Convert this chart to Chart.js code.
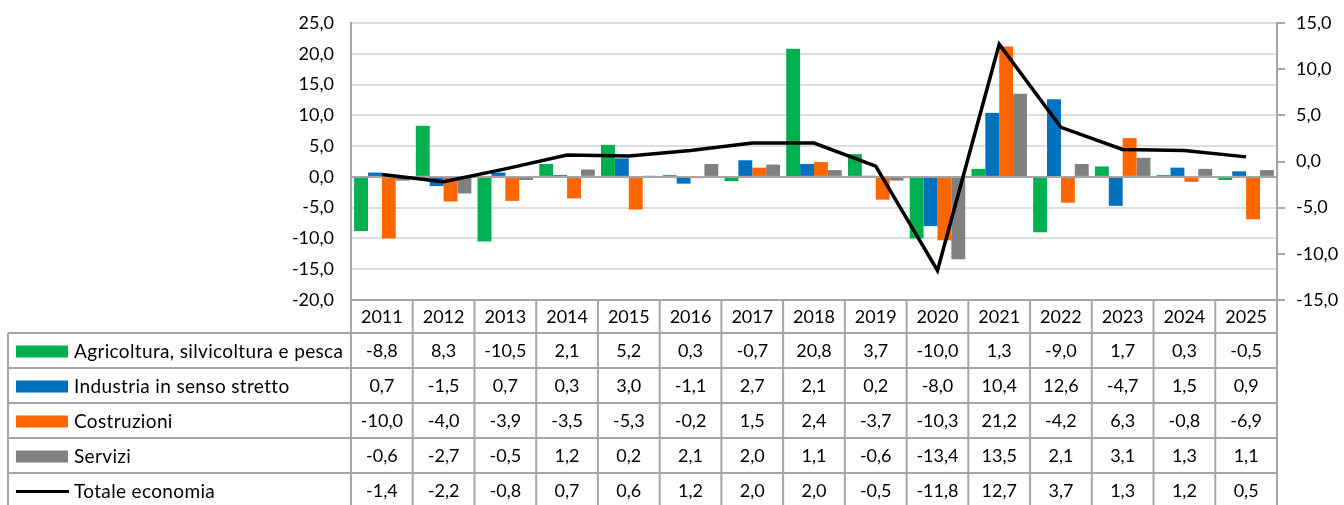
<!DOCTYPE html>
<html>
<head>
<meta charset="utf-8">
<script src="https://cdn.jsdelivr.net/npm/chart.js@4.4.1/dist/chart.umd.min.js"></script>
<style>
  body { margin: 0; background: #fff; }
  #wrap { width: 1344px; height: 505px; position: relative; }
</style>
</head>
<body>
<div id="wrap"><canvas id="chart"></canvas></div>
<script>
// Data
const years = ['2011', '2012', '2013', '2014', '2015', '2016', '2017', '2018', '2019', '2020', '2021', '2022', '2023', '2024', '2025'];
const agricoltura = [-8.8, 8.3, -10.5, 2.1, 5.2, 0.3, -0.7, 20.8, 3.7, -10.0, 1.3, -9.0, 1.7, 0.3, -0.5];
const industria = [0.7, -1.5, 0.7, 0.3, 3.0, -1.1, 2.7, 2.1, 0.2, -8.0, 10.4, 12.6, -4.7, 1.5, 0.9];
const costruzioni = [-10.0, -4.0, -3.9, -3.5, -5.3, -0.2, 1.5, 2.4, -3.7, -10.3, 21.2, -4.2, 6.3, -0.8, -6.9];
const servizi = [-0.6, -2.7, -0.5, 1.2, 0.2, 2.1, 2.0, 1.1, -0.6, -13.4, 13.5, 2.1, 3.1, 1.3, 1.1];
const totale = [-1.4, -2.2, -0.8, 0.7, 0.6, 1.2, 2.0, 2.0, -0.5, -11.8, 12.7, 3.7, 1.3, 1.2, 0.5];

const FONT = 'Lato, "Open Sans", sans-serif';
const GRID = '#a6a6a6';

function fmt(v) {
    return v.toFixed(1).replace('.', ',');
}

// Draws the data table below the plot, aligned with the category scale
const tablePlugin = {
    id: 'dataTable',
    afterDraw(chart) {
        const ctx = chart.ctx;
        const area = chart.chartArea;
        const x = chart.scales.x;
        const n = years.length;
        const w = (area.right - area.left) / n;
        const top = area.bottom;
        const headH = 33;
        const rowH = 35;
        const legLeft = 8;
        const rows = chart.data.datasets;

        ctx.save();
        ctx.strokeStyle = GRID;
        ctx.lineWidth = 2;

        // horizontal lines
        ctx.beginPath();
        ctx.moveTo(area.left, top);
        ctx.lineTo(area.right, top);
        for (let r = 0; r <= rows.length; r++) {
            const y = top + headH + r * rowH;
            ctx.moveTo(legLeft, y);
            ctx.lineTo(area.right, y);
        }
        // vertical lines
        for (let i = 0; i <= n; i++) {
            const xx = area.left + i * w;
            ctx.moveTo(xx, top);
            ctx.lineTo(xx, chart.height);
        }
        ctx.moveTo(legLeft, top + headH);
        ctx.lineTo(legLeft, chart.height);
        ctx.stroke();

        ctx.fillStyle = '#000';
        ctx.font = '18px ' + FONT;
        ctx.textBaseline = 'middle';
        ctx.textAlign = 'center';
        years.forEach((yr, i) => {
            ctx.fillText(yr, x.getPixelForValue(i), top + headH / 2 + 1);
        });

        rows.forEach((ds, r) => {
            const cy = top + headH + r * rowH + rowH / 2 + 1;
            // legend key
            if (ds.type === 'line') {
                ctx.strokeStyle = ds.borderColor;
                ctx.lineWidth = 3;
                ctx.beginPath();
                ctx.moveTo(16, cy);
                ctx.lineTo(69, cy);
                ctx.stroke();
            } else {
                ctx.fillStyle = ds.backgroundColor;
                ctx.fillRect(16, cy - 6, 52, 12);
            }
            ctx.fillStyle = '#000';
            ctx.textAlign = 'left';
            ctx.font = '19px ' + FONT;
            ctx.letterSpacing = '0.35px';
            ctx.fillText(ds.label, 74, cy);
            ctx.letterSpacing = '0px';
            ctx.font = '18px ' + FONT;
            ctx.textAlign = 'center';
            ds.data.forEach((v, i) => {
                ctx.fillText(fmt(v), x.getPixelForValue(i), cy);
            });
        });
        ctx.restore();
    }
};

const ctx = document.getElementById('chart').getContext('2d');
new Chart(ctx, {
    data: {
        labels: years,
        datasets: [
            { type: 'bar', label: 'Agricoltura, silvicoltura e pesca', data: agricoltura, backgroundColor: '#00b050', yAxisID: 'y', order: 2 },
            { type: 'bar', label: 'Industria in senso stretto', data: industria, backgroundColor: '#0070c0', yAxisID: 'y', order: 2 },
            { type: 'bar', label: 'Costruzioni', data: costruzioni, backgroundColor: '#ff6600', yAxisID: 'y', order: 2 },
            { type: 'bar', label: 'Servizi', data: servizi, backgroundColor: '#808080', yAxisID: 'y', order: 2 },
            { type: 'line', label: 'Totale economia', data: totale, borderColor: '#000', backgroundColor: '#000', borderWidth: 3.5, pointRadius: 0, tension: 0, yAxisID: 'y2', order: 1 }
        ]
    },
    options: {
        responsive: true,
        maintainAspectRatio: false,
        animation: false,
        layout: { padding: { top: 23, bottom: 205, left: 0, right: 0 } },
        datasets: { bar: { categoryPercentage: 0.9, barPercentage: 1.0 } },
        plugins: { legend: { display: false }, tooltip: { enabled: false } },
        scales: {
            x: { display: false },
            y: {
                position: 'left',
                min: -20, max: 25,
                ticks: { stepSize: 5, padding: 17, color: '#000', font: { family: FONT, size: 18 }, callback: v => fmt(v) },
                grid: {
                    drawTicks: false,
                    lineWidth: 2,
                    color: c => c.tick.value === 0 ? GRID : '#dedede'
                },
                border: { color: GRID, width: 2 },
                afterFit: s => { s.width = 351; s.paddingTop = 0; s.paddingBottom = 0; }
            },
            y2: {
                position: 'right',
                min: -15, max: 15,
                ticks: { stepSize: 5, padding: 11, color: '#000', font: { family: FONT, size: 18 }, callback: v => fmt(v) },
                grid: { drawOnChartArea: false, tickLength: 8, color: GRID, lineWidth: 2 },
                border: { color: GRID, width: 2 },
                afterFit: s => { s.width = 67; s.paddingTop = 0; s.paddingBottom = 0; }
            }
        }
    },
    plugins: [tablePlugin]
});
</script>
</body>
</html>
